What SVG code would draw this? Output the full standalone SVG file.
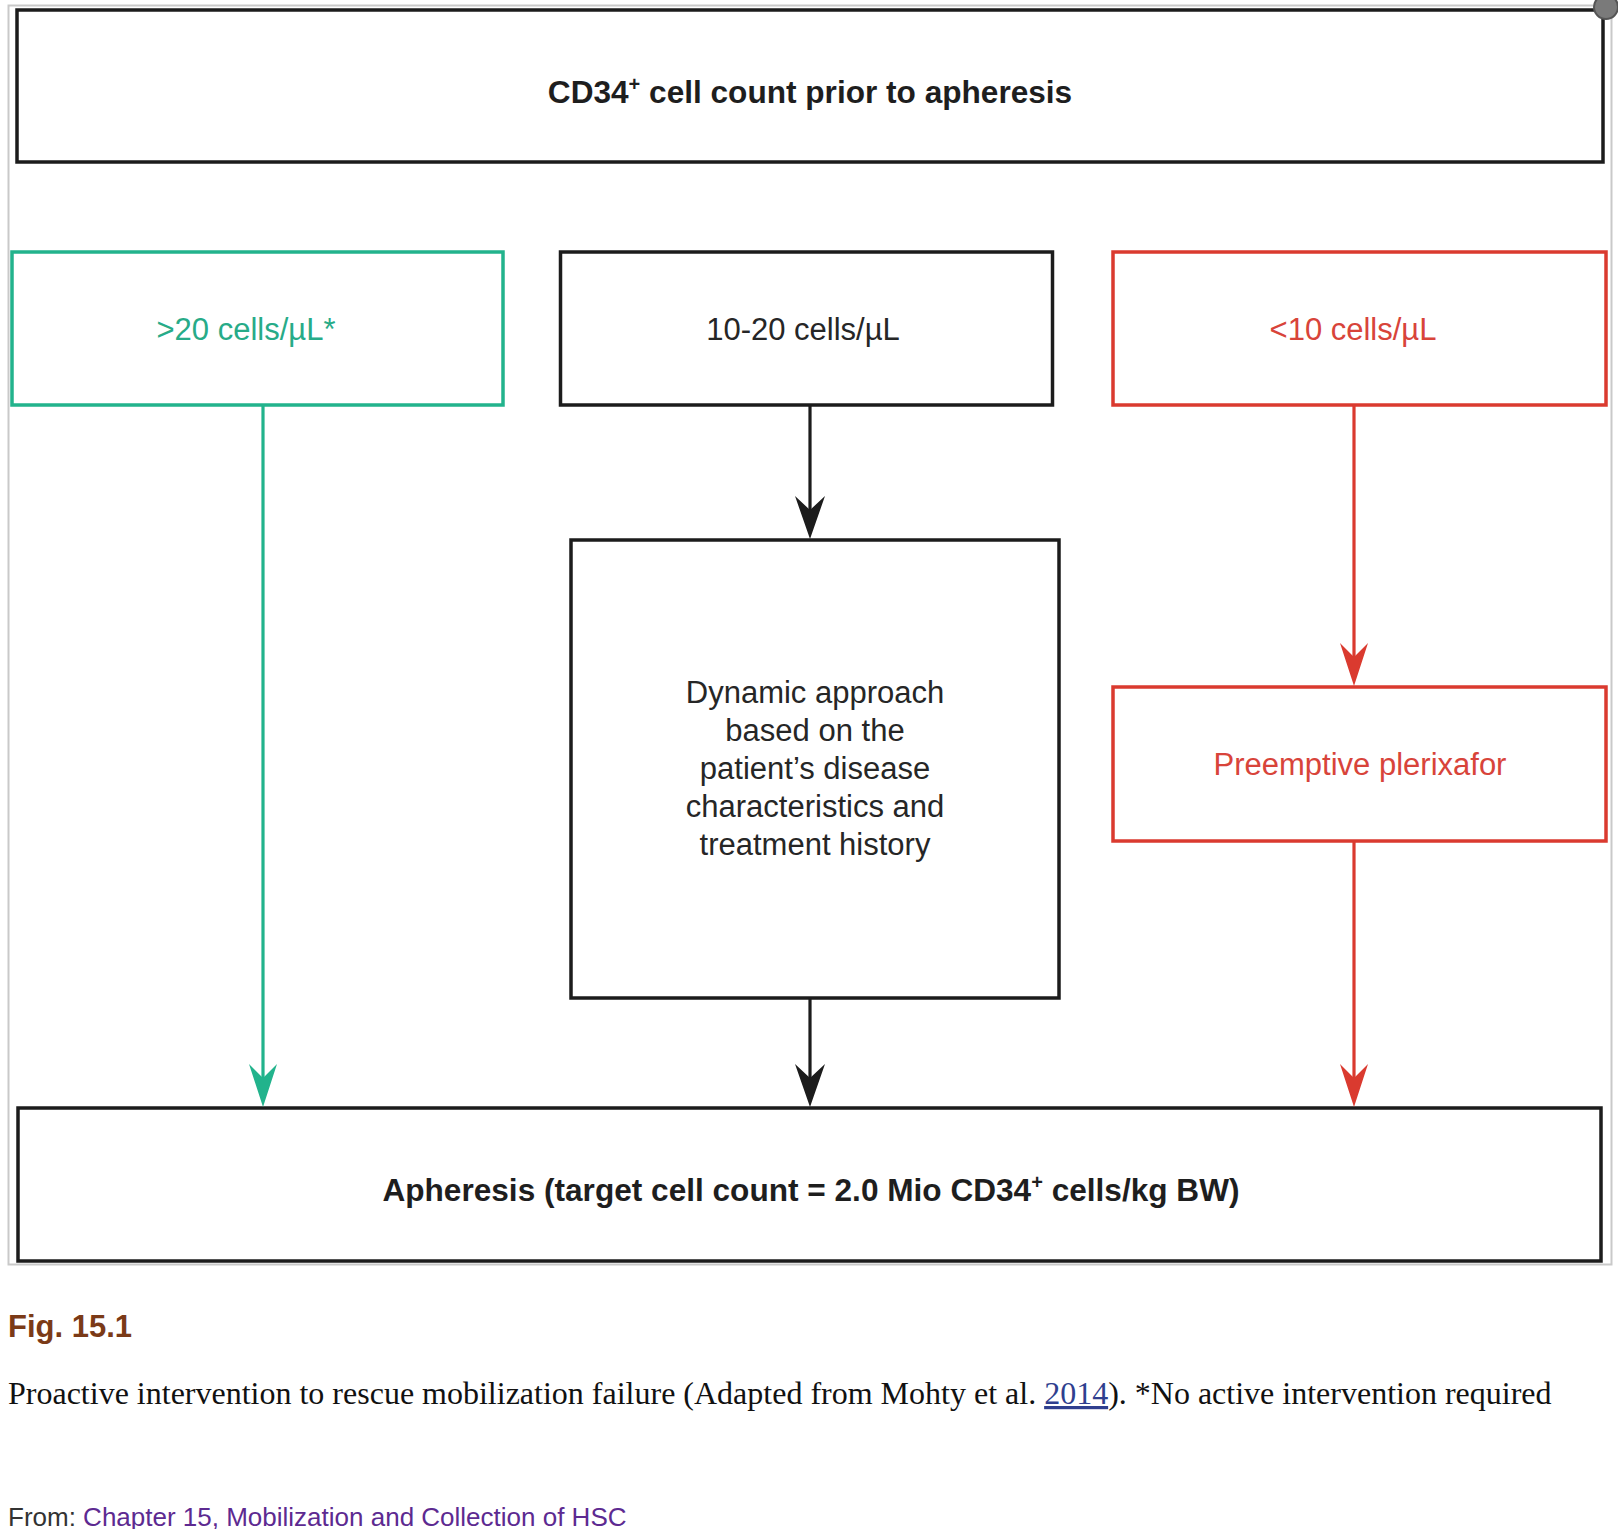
<svg xmlns="http://www.w3.org/2000/svg" width="1618" height="1529" viewBox="0 0 1618 1529">
<style>
.box{fill:#fff;stroke-width:3.5}
.blk{stroke:#1c1c1c}
.grn{stroke:#22b38c}
.red{stroke:#da3a2f}
.t{font-family:"Liberation Sans",Arial,Helvetica,sans-serif;font-size:31px;text-anchor:middle}
.tb{font-weight:bold;fill:#1e1e1e;font-size:31.6px}
.tk{fill:#262626}
.tg{fill:#27ab88}
.tr{fill:#d8443a}
.ln{fill:none;stroke-width:3.2}
.cap{font-family:"Liberation Serif","Times New Roman",serif;font-size:32px;fill:#111}
</style>
<defs>
<marker id="ahB" markerUnits="userSpaceOnUse" markerWidth="46" markerHeight="34" viewBox="0 -17 46 34" refX="29" refY="0" orient="auto">
<path d="M43,0 L0,-15 L14,0 L0,15 Z" fill="#1c1c1c"/>
</marker>
<marker id="ahG" markerUnits="userSpaceOnUse" markerWidth="46" markerHeight="34" viewBox="0 -17 46 34" refX="29" refY="0" orient="auto">
<path d="M43,0 L0,-14 L14,0 L0,14 Z" fill="#22b38c"/>
</marker>
<marker id="ahR" markerUnits="userSpaceOnUse" markerWidth="46" markerHeight="34" viewBox="0 -17 46 34" refX="29" refY="0" orient="auto">
<path d="M43,0 L0,-14 L14,0 L0,14 Z" fill="#da3a2f"/>
</marker>
</defs>
<rect width="1618" height="1529" fill="#fff"/>
<rect x="8.5" y="5.5" width="1603" height="1259" fill="none" stroke="#c9c9c9" stroke-width="2"/>

<g id="top">
<rect class="box blk" x="17" y="10" width="1586" height="152" stroke-width="4"/>
<text class="t tb" x="810" y="103">CD34<tspan font-size="20" dy="-12">+</tspan><tspan dy="12"> cell count prior to apheresis</tspan></text>
</g>

<g id="high">
<rect class="box grn" x="12" y="252" width="491" height="153"/>
<text class="t tg" x="246" y="340">&gt;20 cells/µL*</text>
</g>

<g id="mid">
<rect class="box blk" x="560.5" y="252" width="492" height="153"/>
<text class="t tk" x="803" y="340">10-20 cells/µL</text>
</g>

<g id="low">
<rect class="box red" x="1113" y="252" width="493" height="153"/>
<text class="t tr" x="1353" y="340">&lt;10 cells/µL</text>
</g>

<g id="dynamic">
<rect class="box blk" x="571" y="540" width="488" height="458"/>
<text class="t tk" x="815" y="703">Dynamic approach</text>
<text class="t tk" x="815" y="741">based on the</text>
<text class="t tk" x="815" y="779">patient’s disease</text>
<text class="t tk" x="815" y="817">characteristics and</text>
<text class="t tk" x="815" y="855">treatment history</text>
</g>

<g id="plerixafor">
<rect class="box red" x="1113" y="687" width="493" height="154"/>
<text class="t tr" x="1360" y="775">Preemptive plerixafor</text>
</g>

<g id="apheresis">
<rect class="box blk" x="18" y="1108" width="1583" height="153" stroke-width="4"/>
<text class="t tb" x="811" y="1201">Apheresis (target cell count = 2.0 Mio CD34<tspan font-size="20" dy="-12">+</tspan><tspan dy="12"> cells/kg BW)</tspan></text>
</g>

<g id="connectors">
<line class="ln grn" x1="263" y1="405" x2="263" y2="1093" marker-end="url(#ahG)"/>
<line class="ln blk" x1="810" y1="405" x2="810" y2="525" marker-end="url(#ahB)"/>
<line class="ln blk" x1="810" y1="998" x2="810" y2="1093" marker-end="url(#ahB)"/>
<line class="ln red" x1="1354" y1="405" x2="1354" y2="672" marker-end="url(#ahR)"/>
<line class="ln red" x1="1354" y1="841" x2="1354" y2="1093" marker-end="url(#ahR)"/>
</g>

<circle cx="1606" cy="7" r="12" fill="#7a7a7a" stroke="#555" stroke-width="2"/>

<g id="caption">
<text x="8" y="1337" font-family="'Liberation Sans',Arial,sans-serif" font-size="31" font-weight="bold" fill="#7b3a17">Fig. 15.1</text>
<text class="cap" x="8" y="1404">Proactive intervention to rescue mobilization failure (Adapted from Mohty et al. <tspan fill="#2f3f8f" text-decoration="underline">2014</tspan>). *No active intervention required</text>
<text x="8" y="1526" font-family="'Liberation Sans',Arial,sans-serif" font-size="26" fill="#333">From: <tspan fill="#5d2a91">Chapter 15, Mobilization and Collection of HSC</tspan></text>
</g>
</svg>
